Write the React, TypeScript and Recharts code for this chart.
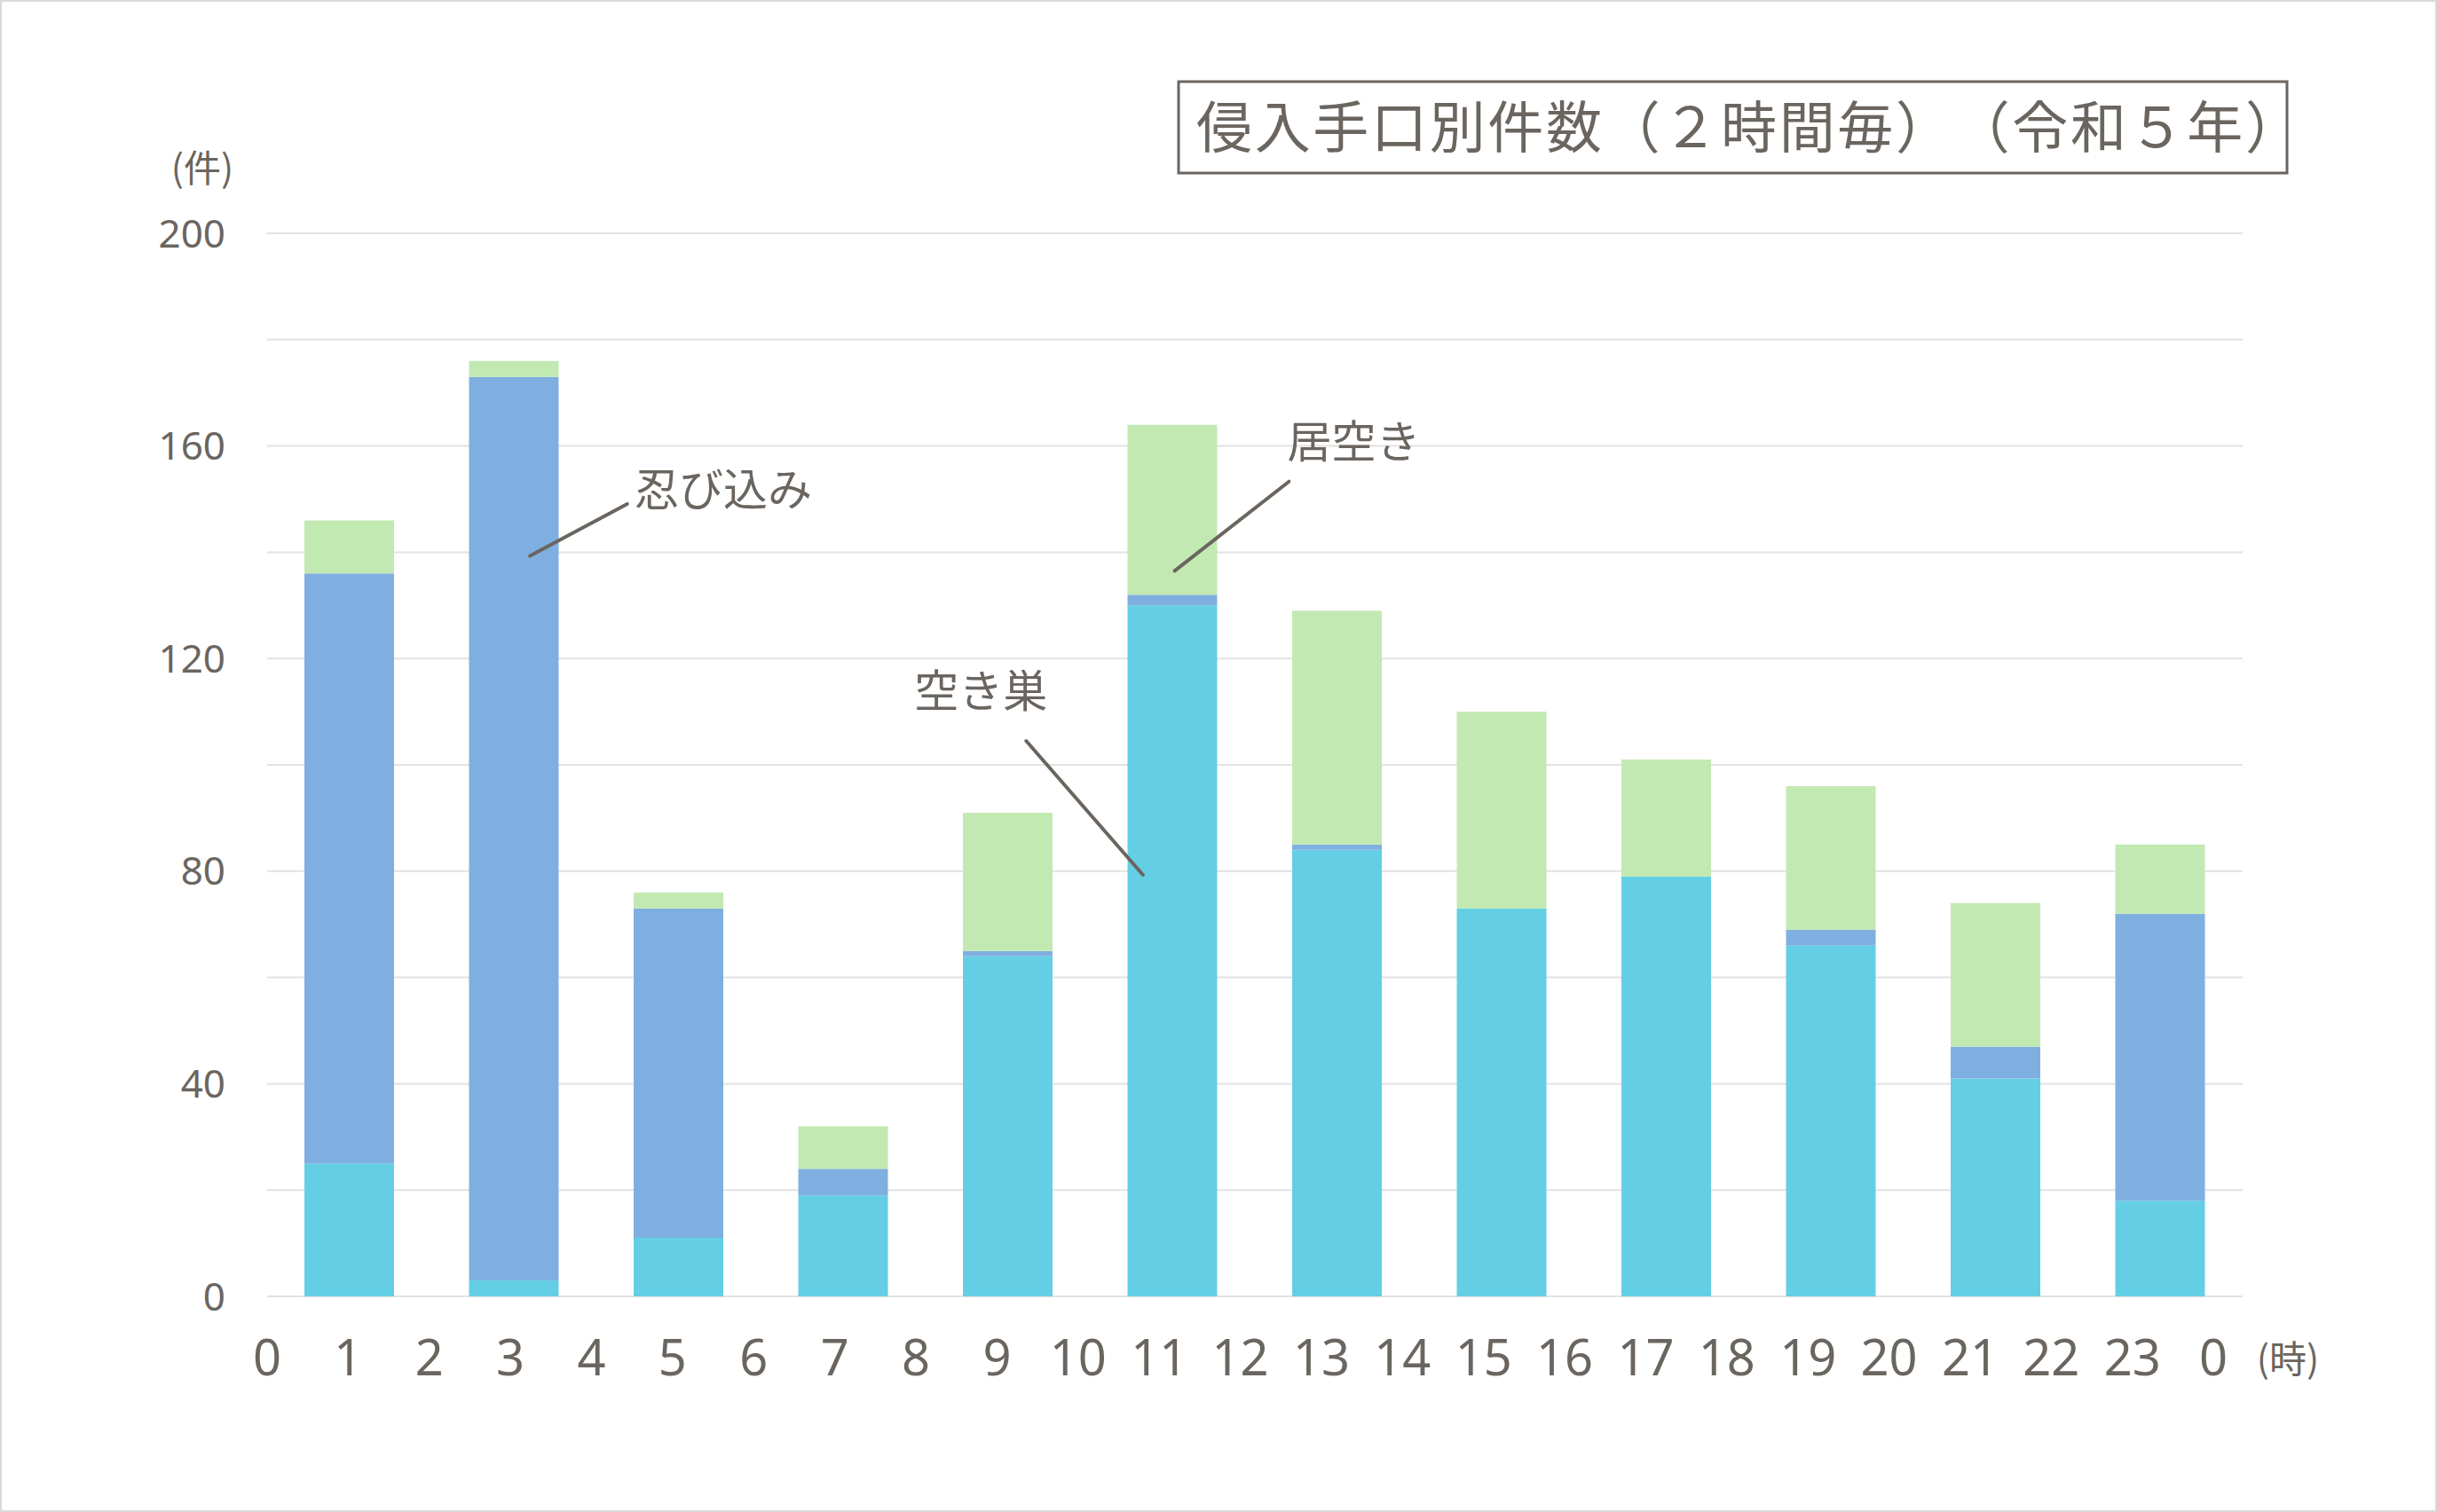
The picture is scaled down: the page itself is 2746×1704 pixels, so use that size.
import React from 'react';
import { BarChart, Bar, XAxis, YAxis, CartesianGrid, ReferenceLine, ReferenceDot } from 'recharts';

// 2時間ごとの区分（0-2時 … 22-24時）
const slots = ['0-2', '2-4', '4-6', '6-8', '8-10', '10-12', '12-14', '14-16', '16-18', '18-20', '20-22', '22-24'];
const slotMid = [1, 3, 5, 7, 9, 11, 13, 15, 17, 19, 21, 23];
const akisu = [25, 3, 11, 19, 64, 130, 84, 73, 79, 66, 41, 18];
const shinobikomi = [111, 170, 62, 5, 1, 2, 1, 0, 0, 3, 6, 54];
const iaki = [10, 3, 3, 8, 26, 32, 44, 37, 22, 27, 27, 13];

const hourTicks = [0, 1, 2, 3, 4, 5, 6, 7, 8, 9, 10, 11, 12, 13, 14, 15, 16, 17, 18, 19, 20, 21, 22, 23, 24];
const hourLabels = ['0', '1', '2', '3', '4', '5', '6', '7', '8', '9', '10', '11', '12', '13', '14', '15', '16', '17', '18', '19', '20', '21', '22', '23', '0'];
const yTicks = [0, 40, 80, 120, 160, 200];
const gridValues = [0, 20, 40, 60, 80, 100, 120, 140, 160, 180, 200];

// 引き出し線（x: 時刻軸, y: 件数）
const callouts = [
  { label: '忍び込み', x1: 3.24, y1: 139.3, x2: 4.44, y2: 149.1, tx: 4.53, ty: 152.5 },
  { label: '居空き', x1: 11.19, y1: 136.5, x2: 12.6, y2: 153.3, tx: 12.58, ty: 161.5 },
  { label: '空き巣', x1: 10.8, y1: 79.3, x2: 9.36, y2: 104.5, tx: 7.98, ty: 114.5 },
];

const rows = slots.map((slot, i) => ({
  slot,
  mid: slotMid[i],
  akisu: akisu[i],
  shinobikomi: shinobikomi[i],
  iaki: iaki[i],
}));

const TEXT = '#6b6560';
const JP = "'Noto Sans CJK JP', 'Noto Sans', sans-serif";
const NUM = "'Noto Sans', 'Noto Sans CJK JP', sans-serif";

export default function App() {
  return (
    <div style={{ position: 'absolute', left: 0, top: 0, width: 2746, height: 1704, background: '#fff' }}>
      <BarChart
        width={2746}
        height={1704}
        data={rows}
        margin={{ top: 263, right: 219, bottom: 143, left: 0 }}
      >
        <CartesianGrid
          vertical={false}
          horizontalValues={gridValues}
          stroke="#e2e2e2"
          strokeWidth={2}
        />
        <XAxis xAxisId="cat" dataKey="slot" hide height={0} />
        {/* 時刻ラベルは元の図と同じく少し詰めて並べる */}
        <XAxis
          xAxisId="h"
          dataKey="mid"
          type="number"
          domain={[0, 24.36]}
          allowDataOverflow
          ticks={hourTicks}
          interval={0}
          tickFormatter={(v: number, i: number) => hourLabels[i]}
          axisLine={false}
          tickLine={false}
          tickSize={0}
          tickMargin={49}
          height={100}
          tick={{ fill: TEXT, fontSize: 56, fontFamily: NUM }}
        />
        <YAxis
          domain={[0, 200]}
          ticks={yTicks}
          interval={0}
          width={301}
          axisLine={false}
          tickLine={false}
          tickSize={0}
          tickMargin={47}
          tick={{ fill: TEXT, fontSize: 44, fontFamily: NUM }}
        />
        <Bar xAxisId="cat" dataKey="akisu" name="空き巣" stackId="a" fill="#64cfe4" barSize={101} isAnimationActive={false} />
        <Bar xAxisId="cat" dataKey="shinobikomi" name="忍び込み" stackId="a" fill="#7fafe0" barSize={101} isAnimationActive={false} />
        <Bar xAxisId="cat" dataKey="iaki" name="居空き" stackId="a" fill="#c2e9b2" barSize={101} isAnimationActive={false} />
        {callouts.map((c) => (
          <ReferenceLine
            key={c.label + '-line'}
            xAxisId="h"
            segment={[{ x: c.x1, y: c.y1 }, { x: c.x2, y: c.y2 }]}
            stroke={TEXT}
            strokeWidth={4}
            strokeLinecap="round"
          />
        ))}
        {callouts.map((c) => (
          <ReferenceDot
            key={c.label + '-text'}
            xAxisId="h"
            x={c.tx}
            y={c.ty}
            r={0}
            shape={(p: any) => (
              <text
                x={p.cx}
                y={p.cy}
                fill={TEXT}
                fontSize={50}
                fontFamily={JP}
                dominantBaseline="central"
                textAnchor="start"
              >
                {c.label}
              </text>
            )}
          />
        ))}
      </BarChart>
      <svg
        width={2746}
        height={1704}
        style={{ position: 'absolute', left: 0, top: 0, pointerEvents: 'none' }}
      >
        <rect x={1} y={1} width={2744} height={1702} fill="none" stroke="#d9d9d9" strokeWidth={2} />
        <rect x={1328} y={92} width={1249} height={103} fill="none" stroke={TEXT} strokeWidth={3} />
        <text
          x={1348}
          y={138}
          fill={TEXT}
          fontSize={63}
          fontFamily={JP}
          dominantBaseline="central"
          textLength={1245}
          lengthAdjust="spacing"
          style={{ textSpacingTrim: 'space-all' } as any}
        >
          侵入手口別件数（２時間毎）（令和５年）
        </text>
        <text x={228} y={186} fill={TEXT} fontSize={42} fontFamily={JP} textAnchor="middle" dominantBaseline="central">
          (件)
        </text>
        <text x={2578} y={1528} fill={TEXT} fontSize={42} fontFamily={JP} textAnchor="middle" dominantBaseline="central">
          (時)
        </text>
      </svg>
    </div>
  );
}
